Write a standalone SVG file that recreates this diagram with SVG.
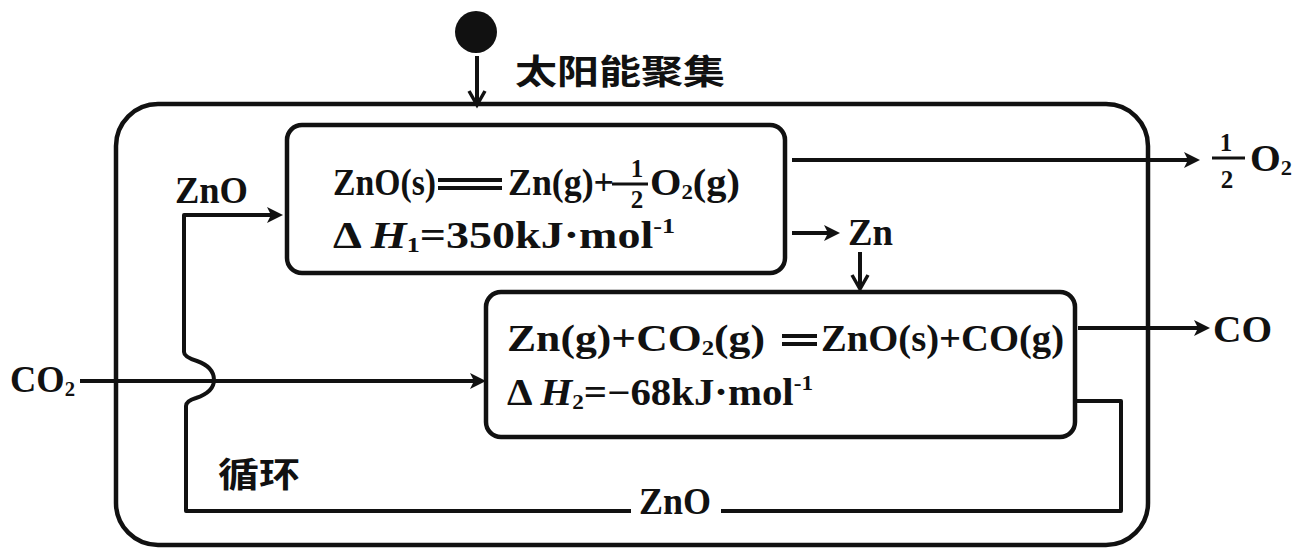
<svg xmlns="http://www.w3.org/2000/svg" width="1297" height="549" viewBox="0 0 1297 549">
<style>
.ln{fill:none;stroke:#111;stroke-width:4;stroke-linejoin:round}
.bx{fill:none;stroke:#111;stroke-width:4.5}
.t{font-family:"Liberation Serif","Times New Roman",serif;font-weight:bold;font-size:37px;fill:#111}
.fr{font-family:"Liberation Serif","Times New Roman",serif;font-weight:bold;font-size:25px;fill:#111;text-anchor:middle}
.cn{font-family:"Noto Sans CJK SC","Noto Sans",sans-serif;font-weight:bold;font-size:34px;fill:#111}
.sub{font-size:21px}
</style>
<defs>
<marker id="ah" markerUnits="userSpaceOnUse" markerWidth="18" markerHeight="18" refX="12" refY="8" orient="auto" overflow="visible">
<path d="M0,0 L16,8 L0,16 L4,8 Z" fill="#111"/>
</marker>
<marker id="av" markerUnits="userSpaceOnUse" markerWidth="18" markerHeight="18" refX="14" refY="8" orient="auto" overflow="visible">
<path d="M1,0 L15,8 L1,16" fill="none" stroke="#111" stroke-width="3.5"/>
</marker>
</defs>
<rect width="1297" height="549" fill="#fff"/>

<g id="outer">
<rect class="bx" x="116" y="104" width="1032" height="441" rx="42"/>
</g>

<g id="sun">
<circle cx="476" cy="32" r="21" fill="#111"/>
<text class="cn" x="515" y="84" textLength="210" lengthAdjust="spacingAndGlyphs">太阳能聚集</text>
</g>

<g id="box1">
<rect class="bx" x="287" y="125" width="498" height="148" rx="15"/>
<text class="t" x="333" y="195" textLength="103" lengthAdjust="spacingAndGlyphs">ZnO(s)</text>
<line x1="438" y1="180" x2="502" y2="180" stroke="#111" stroke-width="4"/>
<line x1="438" y1="188" x2="502" y2="188" stroke="#111" stroke-width="4"/>
<text class="t" x="508" y="195" textLength="106" lengthAdjust="spacingAndGlyphs">Zn(g)+</text>
<line x1="612" y1="184" x2="648" y2="184" stroke="#111" stroke-width="3"/>
<text class="fr" x="637" y="177">1</text>
<text class="fr" x="637" y="208">2</text>
<text class="t" x="650" y="195" textLength="90" lengthAdjust="spacingAndGlyphs">O<tspan class="sub" dy="4">2</tspan><tspan dy="-4">(g)</tspan></text>
<text class="t" x="333" y="248" textLength="342" lengthAdjust="spacingAndGlyphs">Δ <tspan font-style="italic">H</tspan><tspan class="sub" dy="4">1</tspan><tspan dy="-4">=350kJ·mol</tspan><tspan class="sub" dy="-15">-1</tspan></text>
</g>

<g id="box2">
<rect class="bx" x="486" y="292" width="589" height="145" rx="15"/>
<text class="t" x="507" y="351" textLength="258" lengthAdjust="spacingAndGlyphs">Zn(g)+CO<tspan class="sub" dy="4">2</tspan><tspan dy="-4">(g)</tspan></text>
<line x1="782" y1="336" x2="817" y2="336" stroke="#111" stroke-width="4"/>
<line x1="782" y1="344" x2="817" y2="344" stroke="#111" stroke-width="4"/>
<text class="t" x="821" y="351" textLength="243" lengthAdjust="spacingAndGlyphs">ZnO(s)+CO(g)</text>
<text class="t" x="507" y="405" textLength="306" lengthAdjust="spacingAndGlyphs">Δ <tspan font-style="italic">H</tspan><tspan class="sub" dy="4">2</tspan><tspan dy="-4">=−68kJ·mol</tspan><tspan class="sub" dy="-15">-1</tspan></text>
</g>

<g id="label-zno-in">
<text class="t" x="175" y="203" textLength="73" lengthAdjust="spacingAndGlyphs">ZnO</text>
</g>
<g id="label-co2">
<text class="t" x="10" y="392" textLength="65" lengthAdjust="spacingAndGlyphs">CO<tspan class="sub" dy="4">2</tspan></text>
</g>
<g id="label-o2">
<line x1="1212" y1="158" x2="1245" y2="158" stroke="#111" stroke-width="3"/>
<text class="fr" x="1226" y="151">1</text>
<text class="fr" x="1227" y="188">2</text>
<text class="t" x="1250" y="171" textLength="42" lengthAdjust="spacingAndGlyphs">O<tspan class="sub" dy="4">2</tspan></text>
</g>
<g id="label-zn">
<text class="t" x="848" y="245" textLength="45" lengthAdjust="spacingAndGlyphs">Zn</text>
</g>
<g id="label-co">
<text class="t" x="1213" y="342" textLength="59" lengthAdjust="spacingAndGlyphs">CO</text>
</g>
<g id="label-cycle">
<text class="cn" x="218" y="487" textLength="82" lengthAdjust="spacingAndGlyphs">循环</text>
</g>
<g id="label-zno-back">
<text class="t" x="639" y="514" textLength="72" lengthAdjust="spacingAndGlyphs">ZnO</text>
</g>

<g id="connectors">
<path class="ln" d="M477,56 V104" marker-end="url(#av)"/>
<path class="ln" d="M80,381 H482" marker-end="url(#ah)"/>
<path class="ln" d="M792,160 H1196" marker-end="url(#ah)"/>
<path class="ln" d="M792,233 H836" marker-end="url(#ah)"/>
<path class="ln" d="M860,252 V288" marker-end="url(#av)"/>
<path class="ln" d="M1078,328 H1206" marker-end="url(#ah)"/>
<path class="ln" d="M1077,401 H1121 V511 H721"/>
<path class="ln" d="M631,511 H186 V406 Q186,401 196,398 Q214,392 214,380 Q214,367 197,361 Q184,357 184,352 V215 H279" marker-end="url(#ah)"/>
</g>
</svg>
